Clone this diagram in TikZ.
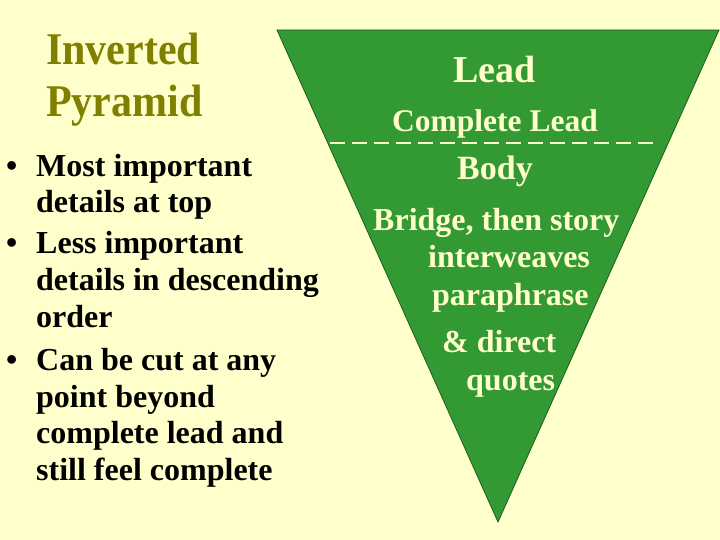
\documentclass[tikz,border=0pt]{standalone}
\usepackage{fontspec}
\setmainfont{Liberation Serif}
\definecolor{bg}{HTML}{FFFFCC}
\definecolor{pyr}{HTML}{339933}
\definecolor{olive}{HTML}{808000}
\definecolor{cream}{HTML}{FFFFCC}
\newcommand\vstretch[1]{\scalebox{1}[1.08]{#1}}
\tikzset{
  txt/.style={anchor=base west, inner sep=0pt, font=\bfseries\fontsize{32}{36}\selectfont},
  ttl/.style={txt, text=olive, font=\bfseries\fontsize{42}{46}\selectfont},
  tri/.style={txt, text=cream},
}
\begin{document}
\begin{tikzpicture}[x=1pt,y=-1pt]
\useasboundingbox (0,0) rectangle (720,540);
\fill[bg] (0,0) rectangle (720,540);
% pyramid
\coordinate (tl) at (277,30);
\coordinate (tr) at (719,30);
\coordinate (ap) at (498,522);
\filldraw[fill=pyr, draw=pyr!60!black, line width=0.8pt] (tl) -- (tr) -- (ap) -- cycle;
\coordinate (dl) at (330,143);
\coordinate (dr) at (658,143);
\draw[cream, line width=2pt, dash pattern=on 15pt off 7pt] (dl) -- (dr);
% title
\node[ttl] (t1) at (46,65) {\vstretch{Inverted}};
\node[ttl] (t2) at (46,117) {\vstretch{Pyramid}};
% bullets
\node[txt] (b1) at (6,177) {•};
\node[txt] (l1) at (36,177) {Most important};
\node[txt] (l2) at (36,213) {details at top};
\node[txt] (b2) at (6,253) {•};
\node[txt] (l3) at (36,253) {Less important};
\node[txt] (l4) at (36,290) {details in descending};
\node[txt] (l5) at (36,327) {order};
\node[txt] (b3) at (6,370) {•};
\node[txt] (l6) at (36,370) {Can be cut at any};
\node[txt] (l7) at (36,407) {point beyond};
\node[txt] (l8) at (36,443) {complete lead and};
\node[txt] (l9) at (36,480) {still feel complete};
% pyramid text
\node[tri, font=\bfseries\fontsize{38}{42}\selectfont] (lead) at (453,83) {Lead};
\node[tri, font=\bfseries\fontsize{31.5}{36}\selectfont] (clead) at (392,132) {Complete Lead};
\node[tri, font=\bfseries\fontsize{34}{38}\selectfont] (body) at (457,180) {Body};
\node[tri] (p1) at (373,230) {Bridge, then story};
\node[tri] (p2) at (428,267) {interweaves};
\node[tri] (p3) at (432,305) {paraphrase};
\node[tri] (p4) at (442,352) {\& direct};
\node[tri] (p5) at (466,390) {quotes};
\end{tikzpicture}
\end{document}
